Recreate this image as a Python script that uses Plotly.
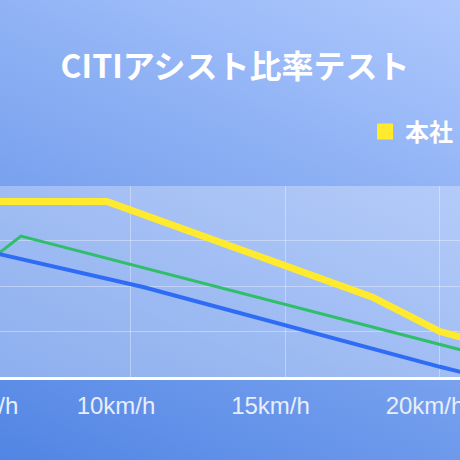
import base64
import plotly.graph_objects as go

# ---- data ----
TITLE = "CITIアシスト比率テスト"
SERIES_NAMES = ["本社", "拠点2", "拠点3"]

YELLOW_X = [5.5, 9.22, 17.8, 20.0, 21.0]
YELLOW_Y = [1.93, 1.93, 0.88, 0.50, 0.41]

GREEN_X = [5.5, 6.44, 21.0]
GREEN_Y = [1.30, 1.55, 0.27]

BLUE_X = [5.5, 10.39, 20.0, 21.0]
BLUE_Y = [1.37, 0.99, 0.112, 0.029]

X_RANGE = [5.761, 20.648]
Y_RANGE = [0, 2.1]
GRID_X = [10, 15, 20]
GRID_Y = [0.5, 1.0, 1.5, 2.1]
TICK_TEXT = ["5km/h", "10km/h", "15km/h", "20km/h"]
TICK_VALS = [5.78, 10, 15, 20]

# ---- layout geometry ----
W = H = 460
TOP, BOTTOM = 186, 83
plot_h = H - TOP - BOTTOM

svg = (
    '<svg xmlns="http://www.w3.org/2000/svg" width="460" height="460" viewBox="0 0 460 460" '
    'preserveAspectRatio="none"><defs><linearGradient id="g" x1="0" y1="1" x2="0.531" y2="-0.206">'
    '<stop offset="0" stop-color="#5185e4"/><stop offset="1" stop-color="#aec8fd"/>'
    '</linearGradient></defs><rect width="460" height="460" fill="url(#g)"/></svg>'
)
bg_uri = "data:image/svg+xml;base64," + base64.b64encode(svg.encode()).decode()

fig = go.Figure()
fig.add_trace(go.Scatter(x=GREEN_X, y=GREEN_Y, mode="lines", name=SERIES_NAMES[1],
                         line=dict(color="#2fbf6a", width=3), showlegend=False))
fig.add_trace(go.Scatter(x=BLUE_X, y=BLUE_Y, mode="lines", name=SERIES_NAMES[2],
                         line=dict(color="#2f6cf6", width=4), showlegend=False))
fig.add_trace(go.Scatter(x=YELLOW_X, y=YELLOW_Y, mode="lines", name=SERIES_NAMES[0],
                         line=dict(color="#ffea2e", width=7), showlegend=False,
                         legendgroup="hq"))
# legend entry (square icon) for the yellow series
fig.add_trace(go.Scatter(x=[None], y=[None], mode="markers", name=SERIES_NAMES[0],
                         marker=dict(symbol="square", size=16, color="#ffea2e"),
                         legendgroup="hq", showlegend=True))
# carrier for the label axis
fig.add_trace(go.Scatter(x=[None], y=[None], xaxis="x2", yaxis="y", mode="lines",
                         showlegend=False, hoverinfo="skip"))

grid_col = "rgba(255,255,255,0.35)"
fig.update_layout(
    width=W, height=H,
    margin=dict(l=0, r=0, t=TOP, b=BOTTOM, pad=0, autoexpand=False),
    paper_bgcolor="#7fa5ee",
    plot_bgcolor="rgba(0,0,0,0)",
    title=dict(text=TITLE, x=235 / W, xref="paper", xanchor="center",
               y=1 - 67 / H, yref="container", yanchor="middle",
               font=dict(family="Noto Sans CJK JP", size=32, color="white", weight="bold")),
    xaxis=dict(range=X_RANGE, tickmode="array", tickvals=GRID_X, showticklabels=False,
               showgrid=True, gridcolor=grid_col, gridwidth=1, zeroline=False,
               showline=True, linecolor="white", linewidth=3, ticks=""),
    xaxis2=dict(overlaying="x", range=X_RANGE, side="bottom", anchor="y",
                tickmode="array", tickvals=TICK_VALS, ticktext=TICK_TEXT,
                showgrid=False, zeroline=False, showline=False, ticks="",
                ticklabelshift=-15, ticklabelstandoff=12, ticklabeloverflow="allow",
                tickfont=dict(family="Liberation Sans", size=24, color="#e8eefa")),
    yaxis=dict(range=Y_RANGE, tickmode="array", tickvals=GRID_Y, showticklabels=False,
               showgrid=True, gridcolor=grid_col, gridwidth=1, zeroline=False,
               showline=False, ticks=""),
    legend=dict(x=365 / W, xanchor="left", y=(H - BOTTOM - 132) / plot_h, yanchor="middle",
                font=dict(family="Noto Sans CJK JP", size=24, color="white", weight="bold"),
                bgcolor="rgba(0,0,0,0)", borderwidth=0),
    showlegend=True,
    images=[dict(source=bg_uri, xref="paper", yref="paper", x=0, y=(H - BOTTOM) / plot_h,
                 sizex=1, sizey=H / plot_h, sizing="stretch", xanchor="left", yanchor="top",
                 layer="below")],
    shapes=[dict(type="rect", xref="x domain", yref="y domain", x0=0, x1=1, y0=0, y1=1,
                 fillcolor="rgba(255,255,255,0.3)", line=dict(width=0), layer="below")],
)

fig.write_html("out.html")
